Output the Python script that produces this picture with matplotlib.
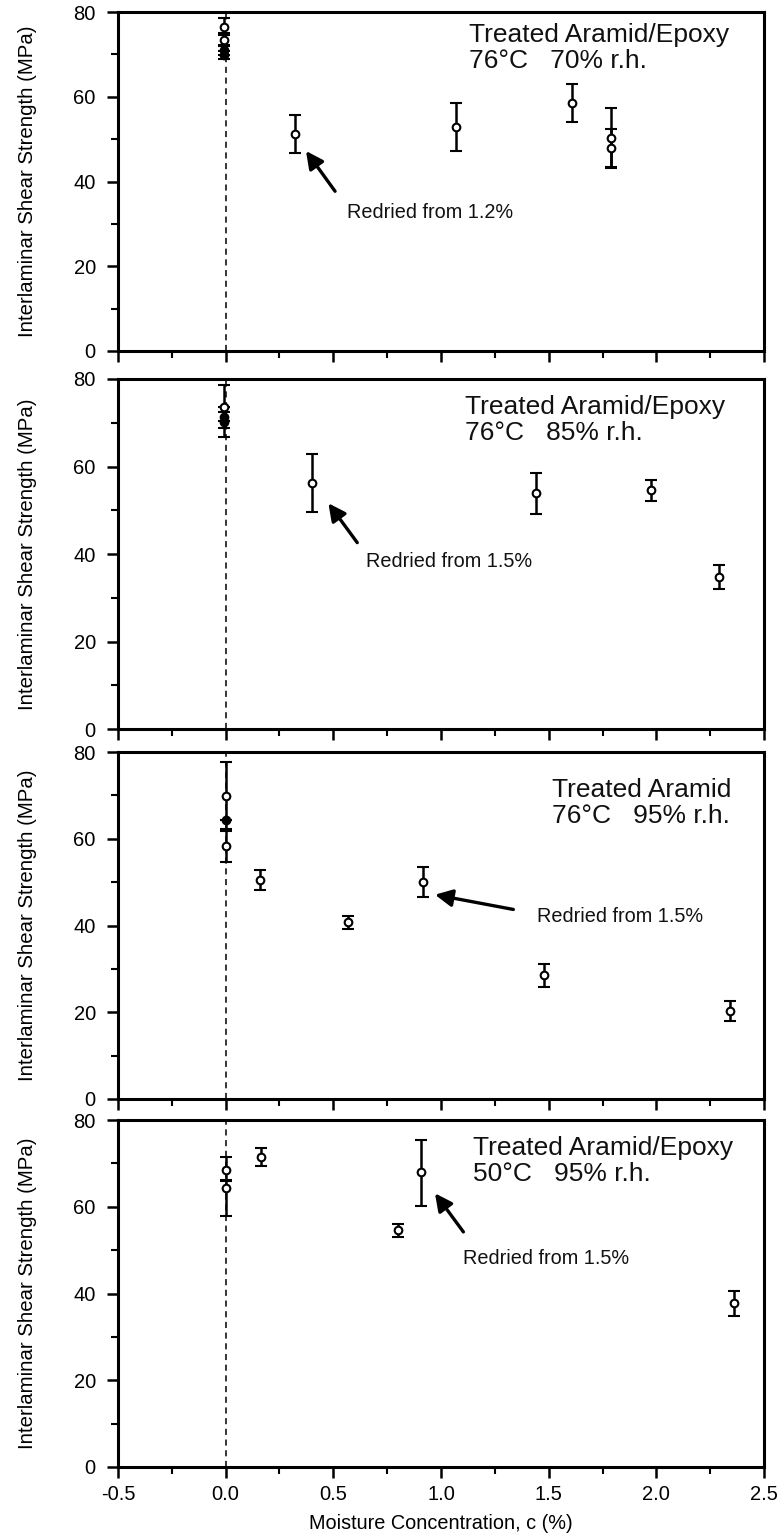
import matplotlib
matplotlib.use("Agg")
import matplotlib.pyplot as plt
from matplotlib.ticker import MultipleLocator

plt.rcParams['font.family'] = ['Liberation Sans', 'DejaVu Sans']

# ---------------- data ----------------
# Panel 1: 76°C 70% r.h.
p1_x_open = [-0.01, -0.01, 0.322, 1.07, 1.61, 1.79, 1.79]
p1_y_open = [76.5, 73.5, 51.3, 52.9, 58.5, 50.2, 47.9]
p1_elo_open = [2.0, 1.5, 4.5, 5.7, 4.4, 7.1, 4.5]
p1_ehi_open = [2.0, 1.5, 4.5, 5.7, 4.4, 7.1, 4.5]
p1_x_fill = [-0.01, -0.01]
p1_y_fill = [71.0, 69.8]
p1_e_fill = [1.2, 1.0]

# Panel 2: 76°C 85% r.h.
p2_x_open = [-0.01, 0.40, 1.44, 1.975, 2.29]
p2_y_open = [73.7, 56.2, 53.9, 54.6, 34.8]
p2_elo_open = [4.9, 6.6, 4.7, 2.4, 2.8]
p2_ehi_open = [4.9, 6.6, 4.7, 2.4, 2.8]
p2_x_fill = [-0.01, -0.01]
p2_y_fill = [71.4, 70.2]
p2_e_fill = [1.0, 3.4]

# Panel 3: 76°C 95% r.h.
p3_x_open = [0.0, 0.0, 0.159, 0.568, 0.915, 1.478, 2.343]
p3_y_open = [69.8, 58.4, 50.4, 40.7, 50.0, 28.5, 20.2]
p3_elo_open = [7.9, 3.8, 2.3, 1.5, 3.5, 2.7, 2.3]
p3_ehi_open = [7.9, 3.8, 2.3, 1.5, 3.5, 2.7, 2.3]
p3_x_fill = [0.0]
p3_y_fill = [64.4]
p3_e_fill = [0.0]

# Panel 4: 50°C 95% r.h.
p4_x_open = [0.0, 0.0, 0.162, 0.80, 0.905, 2.362]
p4_y_open = [68.5, 64.3, 71.5, 54.6, 68.1, 37.9]
p4_elo_open = [2.6, 6.4, 2.0, 1.5, 7.9, 3.0]
p4_ehi_open = [3.0, 1.9, 2.0, 1.5, 7.4, 2.6]
p4_x_fill = []
p4_y_fill = []
p4_e_fill = []

titles = ["Treated Aramid/Epoxy\n76°C   70% r.h.",
          "Treated Aramid/Epoxy\n76°C   85% r.h.",
          "Treated Aramid\n76°C   95% r.h.",
          "Treated Aramid/Epoxy\n50°C   95% r.h."]
notes = ["Redried from 1.2%", "Redried from 1.5%",
         "Redried from 1.5%", "Redried from 1.5%"]
arrow_heads = [(0.373, 47.2), (0.477, 51.6), (0.972, 47.1), (0.972, 63.1)]
arrow_tails = [(0.508, 37.7), (0.611, 42.6), (1.336, 43.7), (1.104, 54.2)]
note_pos = [(0.562, 32.6), (0.652, 38.2), (1.445, 42.1), (1.104, 48.1)]

x_ticks = [-0.5, 0.0, 0.5, 1.0, 1.5, 2.0, 2.5]
x_tick_labels = ["-0.5", "0.0", "0.5", "1.0", "1.5", "2.0", "2.5"]
y_ticks = [0, 20, 40, 60, 80]

open_sets = [(p1_x_open, p1_y_open, p1_elo_open, p1_ehi_open),
             (p2_x_open, p2_y_open, p2_elo_open, p2_ehi_open),
             (p3_x_open, p3_y_open, p3_elo_open, p3_ehi_open),
             (p4_x_open, p4_y_open, p4_elo_open, p4_ehi_open)]
fill_sets = [(p1_x_fill, p1_y_fill, p1_e_fill), (p2_x_fill, p2_y_fill, p2_e_fill),
             (p3_x_fill, p3_y_fill, p3_e_fill), (p4_x_fill, p4_y_fill, p4_e_fill)]

# ---------------- layout ----------------
W, H = 780, 1537
fig = plt.figure(figsize=(W / 100, H / 100), dpi=100)
panels_px = [(12, 351), (379, 729), (752, 1099), (1120, 1467)]
left_px, right_px = 118, 764
title_pos = [(0.543, 0.968), (0.537, 0.955), (0.672, 0.925), (0.550, 0.953)]
eb_style = dict(color='black', mec='black', ms=5.5, mew=1.5, elinewidth=1.8,
                capsize=4.2, capthick=1.8, zorder=3)

for i, (top, bot) in enumerate(panels_px):
    ax = fig.add_axes([left_px / W, 1 - bot / H, (right_px - left_px) / W, (bot - top) / H])
    ax.set_xlim(-0.5, 2.5)
    ax.set_ylim(0, 80)
    ax.axvline(0.0, color='black', lw=1.1, ls=(0, (4, 3)), zorder=1)

    xo, yo, elo, ehi = open_sets[i]
    ax.errorbar(xo, yo, yerr=[elo, ehi], fmt='o', mfc='white', **eb_style)
    xf, yf, ef = fill_sets[i]
    if xf:
        ax.errorbar(xf, yf, yerr=ef, fmt='o', mfc='black', **eb_style)

    ax.text(title_pos[i][0], title_pos[i][1], titles[i], transform=ax.transAxes,
            ha='left', va='top', fontsize=19, linespacing=1.1, color='#111111')
    ax.annotate("", xy=arrow_heads[i], xytext=arrow_tails[i],
                arrowprops=dict(arrowstyle='-|>', color='black', lw=2.4,
                                mutation_scale=26, shrinkA=0, shrinkB=0))
    ax.text(note_pos[i][0], note_pos[i][1], notes[i], ha='left', va='center',
            fontsize=14.3, color='#111111')

    ax.set_xticks(x_ticks)
    ax.xaxis.set_minor_locator(MultipleLocator(0.25))
    ax.set_yticks(y_ticks)
    ax.yaxis.set_minor_locator(MultipleLocator(10))
    ax.tick_params(axis='both', which='major', direction='out', length=8, width=1.8,
                   labelsize=14.5, top=False, right=False, colors='black')
    ax.tick_params(axis='both', which='minor', direction='out', length=5, width=1.5,
                   top=False, right=False)
    ax.tick_params(axis='y', which='major', pad=8)
    if i < 3:
        ax.tick_params(axis='x', labelbottom=False)
    else:
        ax.set_xticklabels(x_tick_labels)
        ax.tick_params(axis='x', which='major', pad=5)
        ax.set_xlabel("Moisture Concentration, c (%)", fontsize=14.3, labelpad=7)
    ax.set_ylabel("Interlaminar Shear Strength (MPa)", fontsize=14.7)
    ax.yaxis.set_label_coords(-0.125, 0.5)
    for s in ax.spines.values():
        s.set_linewidth(2.2)

fig.savefig("out.png", dpi=100)
